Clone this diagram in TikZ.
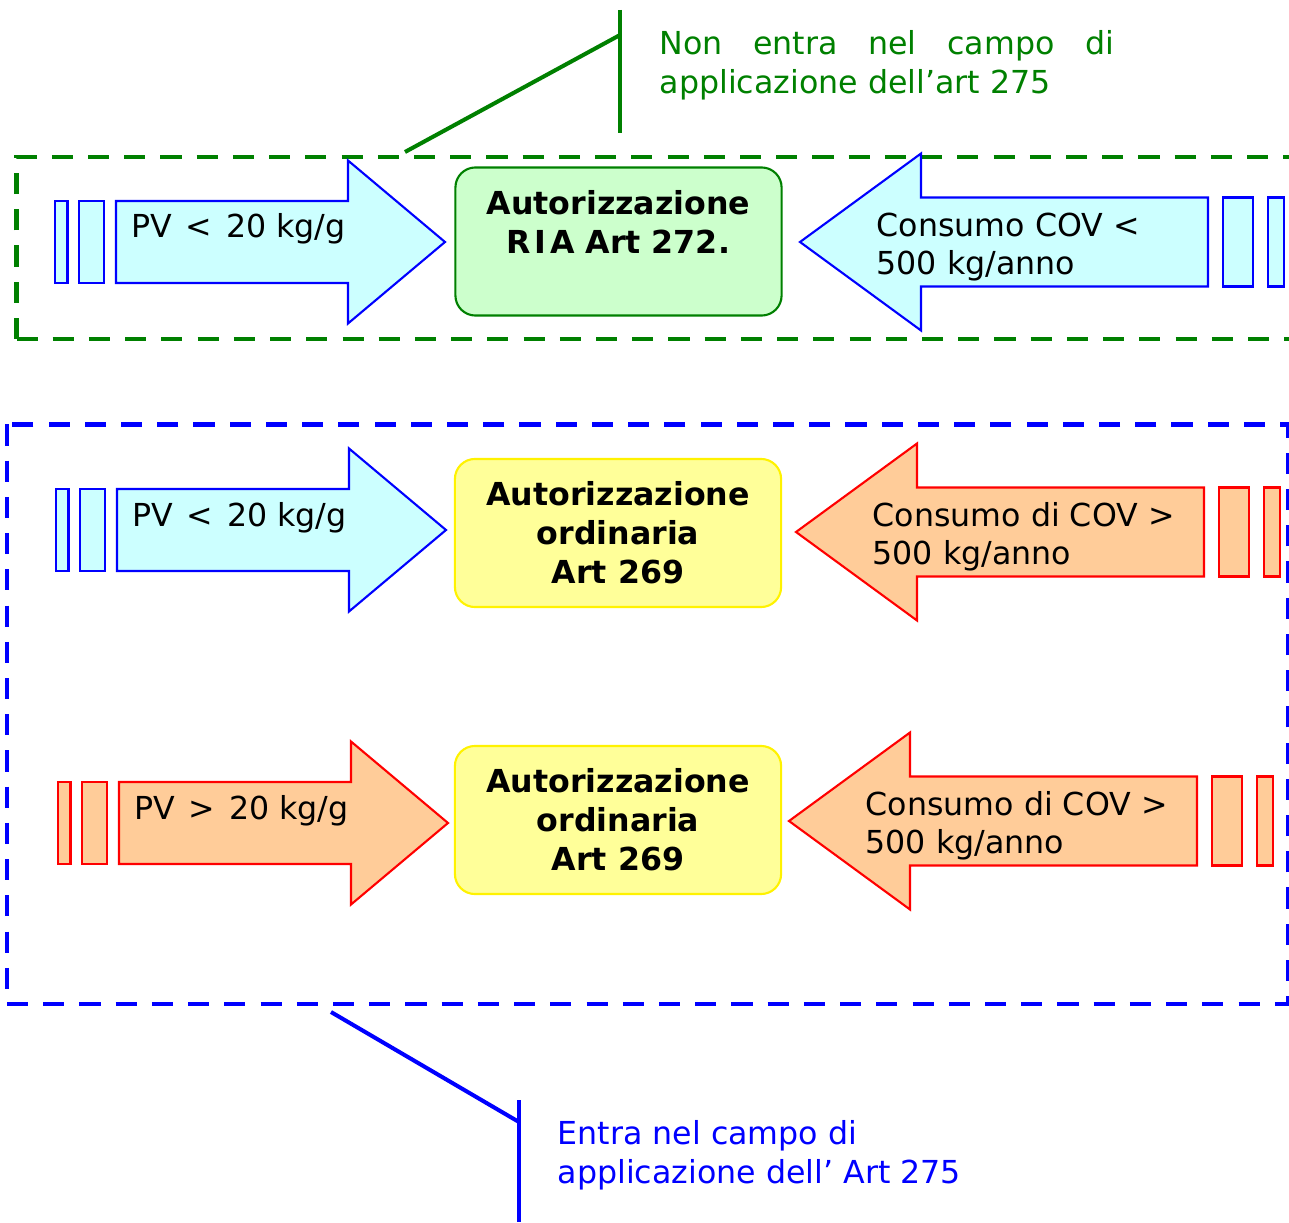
\documentclass[tikz,border=0pt]{standalone}
\usepackage{fontspec}
\setmainfont{DejaVu Sans}
\definecolor{cyanfill}{HTML}{CCFFFF}
\definecolor{orangefill}{HTML}{FFCC99}
\definecolor{greenfill}{HTML}{CCFFCC}
\definecolor{yellowfill}{HTML}{FFFF99}
\definecolor{darkgreen}{HTML}{008000}
\tikzset{%
    arrow blue/.style={
        draw=blue,
        fill=cyanfill,
        line width=0.6pt
    },
    arrow red/.style={
        draw=red,
        fill=orangefill,
        line width=0.6pt
    },
    arrow text/.style={
        inner sep=0pt,
        align=left,
        font=\fontsize{9pt}{10.8pt}\selectfont
    },
    main box/.style={
        rounded corners=5.7pt,
        minimum width=3.26cm,
        minimum height=1.48cm,
        inner sep=0pt,
        align=center,
        line width=0.6pt,
        font=\bfseries\fontsize{9pt}{11.1pt}\selectfont
    },
    ria fill/.style={
        draw=darkgreen,
        fill=greenfill
    },
    ord fill/.style={
        draw=yellow,
        fill=yellowfill
    },
    field line/.style={
        line width=1.4pt,
        dash pattern=on 6pt off 4.3pt
    },
    lead line/.style={
        line width=1.15pt
    },
    lead text/.style={
        inner sep=0pt,
        anchor=north west,
        align=left,
        font=\fontsize{9pt}{10.9pt}\selectfont
    },
}
\begin{document}
\begin{tikzpicture}[x=0.01cm, y=-0.01cm]

        \useasboundingbox (0,0) rectangle (1289,1222);

        % fields of application
        \draw [field line, draw=darkgreen] (16.5,339) -- (16.5,157) -- (1289,157)
            (16.5,339) -- (1289,339);
        \draw [field line, draw=blue] (7,424.5) rectangle (1288,1004);

        % arrows from the left
        \foreach \r/\y/\dx/\kind/\txt in {1/242/0/blue/{PV \kern1pt<\kern1pt{} 20 kg/g}, 2/530/1/blue/{PV \kern1pt<\kern1pt{} 20 kg/g}, 3/823/3/red/{PV \kern1pt>\kern1pt{} 20 kg/g}}
        {
            \draw [arrow \kind] (55+\dx,\y-41) rectangle (67.5+\dx,\y+41);
            \draw [arrow \kind] (79+\dx,\y-41) rectangle (104+\dx,\y+41);
            \draw [arrow \kind] (116+\dx,\y-41) -- (348+\dx,\y-41) -- (348+\dx,\y-81.5)
                -- (445+\dx,\y) -- (348+\dx,\y+81.5) -- (348+\dx,\y+41) -- (116+\dx,\y+41) -- cycle;
            \node [arrow text, anchor=base west] (pv-\r) at (131+\dx,\y-4) {\txt};
        }

        % arrows from the right
        \foreach \r/\y/\t/\kind/\txt in {1/242/800/blue/{Consumo COV <\\500 kg/anno}, 2/532/796/red/{Consumo di COV >\\500 kg/anno}, 3/821/789/red/{Consumo di COV >\\500 kg/anno}}
        {
            \draw [arrow \kind] (\t,\y) -- (\t+121,\y-88.5) -- (\t+121,\y-44.5) -- (\t+408,\y-44.5)
                -- (\t+408,\y+44.5) -- (\t+121,\y+44.5) -- (\t+121,\y+88.5) -- cycle;
            \draw [arrow \kind] (\t+423,\y-44.5) rectangle (\t+453,\y+44.5);
            \draw [arrow \kind] (\t+468,\y-44.5) rectangle (\t+484,\y+44.5);
            \node [arrow text, anchor=north west] (cov-\r) at (\t+76,\y-30) {\txt};
        }

        % authorisations
        \node [main box, ria fill] (ria) at (618.5,241.5) {Autorizzazione\\R\kern1pt I\kern1pt A Art 272.\\\phantom{A}};
        \foreach \r/\y in {2/533,3/820}
            \node [main box, ord fill] (ord-\r) at (618,\y) {Autorizzazione\\ordinaria\\Art 269};

        % callouts
        \coordinate (gfoot) at (405,152);
        \coordinate (gknee) at (620,35);
        \coordinate (gtop) at (620,10);
        \coordinate (gbot) at (620,133);
        \draw [lead line, darkgreen] (gfoot) -- (gknee);
        \draw [lead line, darkgreen] (gtop) -- (gbot);
        \node [lead text, text=darkgreen] (fuori) at (659,30)
            {\makebox[4.54cm][s]{Non entra nel campo di}\\applicazione dell’art 275};

        \coordinate (bfoot) at (331,1012);
        \coordinate (bknee) at (519,1122);
        \coordinate (btop) at (519,1100);
        \coordinate (bbot) at (519,1222);
        \draw [lead line, blue] (bfoot) -- (bknee);
        \draw [lead line, blue] (btop) -- (bbot);
        \node [lead text, text=blue] (dentro) at (557,1120)
            {Entra nel campo di\\applicazione dell’ Art 275};

\end{tikzpicture}
\end{document}
